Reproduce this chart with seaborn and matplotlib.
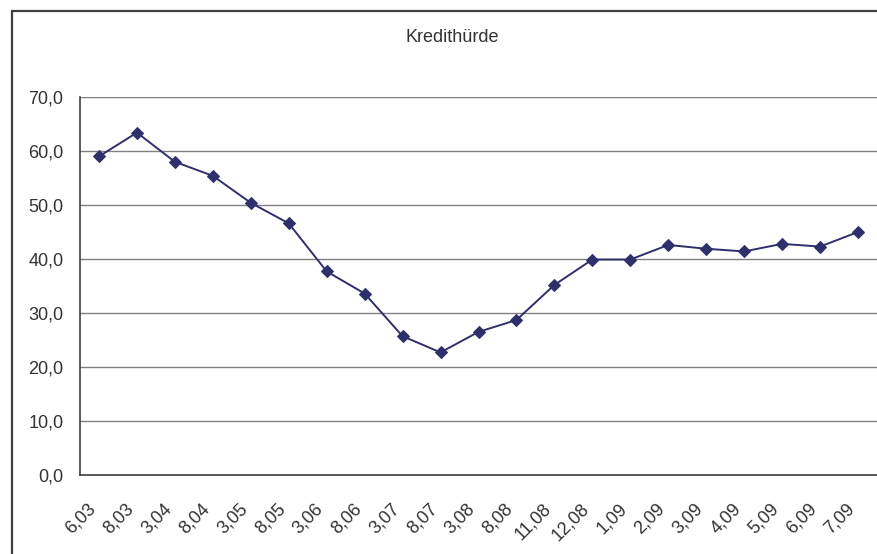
import numpy as np
import pandas as pd
import seaborn as sns
import matplotlib.pyplot as plt
import matplotlib.transforms as mtransforms
from matplotlib.patches import Rectangle
from matplotlib.ticker import FuncFormatter

# Kredithürde data
labels = ["6,03", "8,03", "3,04", "8,04", "3,05", "8,05", "3,06", "8,06", "3,07", "8,07",
          "3,08", "8,08", "11,08", "12,08", "1,09", "2,09", "3,09", "4,09", "5,09", "6,09", "7,09"]
values = [59.0, 63.4, 58.0, 55.4, 50.4, 46.6, 37.7, 33.6, 25.7, 22.7,
          26.5, 28.7, 35.2, 39.9, 39.9, 42.6, 41.9, 41.4, 42.8, 42.3, 45.0]

df = pd.DataFrame({"pos": np.arange(len(labels)), "wert": values})

sns.set_style("white")
plt.rcParams['font.family'] = ['Liberation Sans', 'DejaVu Sans']

W, H = 877, 554
fig = plt.figure(figsize=(W / 100, H / 100), dpi=100)
ax = fig.add_axes([80 / W, (H - 475) / H, (877 - 80) / W, (475 - 97) / H])

sns.lineplot(data=df, x="pos", y="wert", ax=ax, color="#2f2f6b", linewidth=1.4,
             marker="D", markersize=6.5, markeredgecolor="#2f2f6b")

ax.set_ylim(0, 70)
ax.set_xlim(-0.5, 20.47)
ax.set_yticks(np.arange(0, 71, 10))
ax.yaxis.set_major_formatter(FuncFormatter(lambda v, p: f"{v:.1f}".replace(".", ",")))
ax.grid(axis="y", color="#808080", linewidth=1.0)
ax.set_axisbelow(True)

# ticks on category boundaries, labels at the points
ax.set_xticks(np.arange(len(labels)))
ax.set_xticklabels(labels, rotation=45, ha="right", va="top", rotation_mode="anchor")
ax.set_xticks(np.arange(-0.5, len(labels), 1), minor=True)
ax.tick_params(axis="x", which="major", length=0, pad=14, labelsize=13, labelcolor="#333333")
ax.tick_params(axis="x", which="minor", length=5, width=1, color="#404040", direction="out")
ax.tick_params(axis="y", length=5, width=1, color="#404040", direction="out", labelsize=13,
               labelcolor="#333333", pad=7)

# nudge rotated labels left like the original
shift = mtransforms.ScaledTranslation(-12 / 100, -6 / 100, fig.dpi_scale_trans)
for lab in ax.get_xticklabels():
    lab.set_transform(lab.get_transform() + shift)

for s in ["top", "right"]:
    ax.spines[s].set_visible(False)
for s in ["left", "bottom"]:
    ax.spines[s].set_color("#404040")
    ax.spines[s].set_linewidth(1.2)

ax.set_xlabel("")
ax.set_ylabel("")

fig.text(452 / W, 1 - 37 / H, "Kredithürde", ha="center", va="center", fontsize=13, color="#333333")

# outer chart frame
fig.patches.append(Rectangle((12 / W, -0.1), 1.2, 1 - 11 / H + 0.1, transform=fig.transFigure,
                             fill=False, edgecolor="#404040", linewidth=1.6))

fig.savefig("out.png", dpi=100)
